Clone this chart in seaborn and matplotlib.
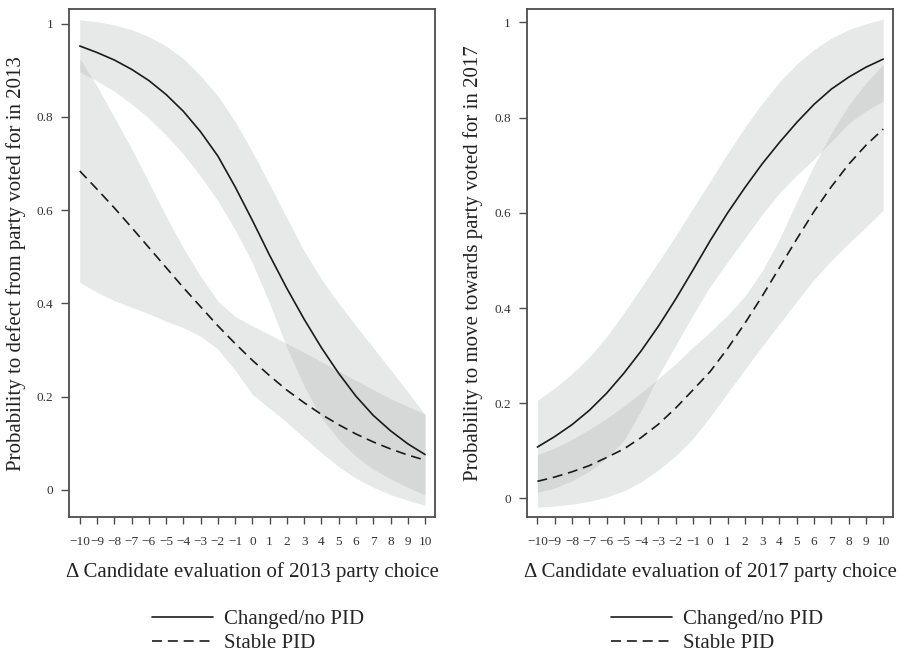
import numpy as np
import pandas as pd
import matplotlib
matplotlib.use('Agg')
import matplotlib.pyplot as plt
import seaborn as sns

# x values: change in candidate evaluation
x_vals = list(range(-10, 11))

# Left panel (2013): probability to defect
defect_changed = [0.952, 0.938, 0.922, 0.902, 0.878, 0.848, 0.812, 0.768, 0.716, 0.650, 0.578,
                  0.503, 0.432, 0.366, 0.305, 0.250, 0.201, 0.160, 0.127, 0.099, 0.076]
defect_changed_lo = [0.896, 0.877, 0.855, 0.828, 0.797, 0.761, 0.720, 0.673, 0.620, 0.558, 0.487,
                     0.400, 0.305, 0.222, 0.155, 0.108, 0.072, 0.045, 0.024, 0.006, -0.011]
defect_changed_hi = [1.008, 1.004, 0.997, 0.987, 0.972, 0.952, 0.925, 0.888, 0.845, 0.790, 0.725,
                     0.655, 0.583, 0.512, 0.452, 0.400, 0.352, 0.305, 0.258, 0.210, 0.162]
defect_stable = [0.684, 0.645, 0.605, 0.563, 0.520, 0.477, 0.434, 0.393, 0.352, 0.314, 0.278,
                 0.245, 0.214, 0.187, 0.162, 0.140, 0.120, 0.103, 0.088, 0.075, 0.064]
defect_stable_lo = [0.445, 0.424, 0.406, 0.392, 0.378, 0.362, 0.348, 0.330, 0.302, 0.257, 0.205,
                    0.175, 0.145, 0.112, 0.080, 0.050, 0.025, 0.006, -0.010, -0.022, -0.033]
defect_stable_hi = [0.925, 0.866, 0.799, 0.732, 0.660, 0.587, 0.519, 0.458, 0.405, 0.372, 0.352,
                    0.333, 0.314, 0.295, 0.275, 0.255, 0.235, 0.215, 0.196, 0.179, 0.163]

# Right panel (2017): probability to move towards party
move_changed = [0.108, 0.130, 0.155, 0.185, 0.221, 0.263, 0.310, 0.362, 0.419, 0.480, 0.542,
                0.600, 0.653, 0.703, 0.748, 0.790, 0.828, 0.860, 0.885, 0.906, 0.923]
move_changed_lo = [0.013, 0.022, 0.037, 0.057, 0.085, 0.122, 0.185, 0.258, 0.322, 0.386, 0.446,
                   0.497, 0.547, 0.597, 0.642, 0.679, 0.713, 0.750, 0.788, 0.814, 0.835]
move_changed_hi = [0.206, 0.232, 0.262, 0.297, 0.340, 0.390, 0.443, 0.497, 0.552, 0.610, 0.667,
                   0.725, 0.780, 0.830, 0.875, 0.913, 0.943, 0.967, 0.985, 0.997, 1.007]
move_stable = [0.036, 0.045, 0.056, 0.069, 0.086, 0.104, 0.128, 0.156, 0.190, 0.228, 0.267,
               0.315, 0.368, 0.425, 0.485, 0.545, 0.603, 0.655, 0.702, 0.742, 0.776]
move_stable_lo = [-0.018, -0.016, -0.012, -0.006, 0.003, 0.016, 0.035, 0.060, 0.090, 0.126, 0.172,
                  0.222, 0.271, 0.320, 0.367, 0.414, 0.460, 0.500, 0.536, 0.570, 0.606]
move_stable_hi = [0.092, 0.106, 0.124, 0.145, 0.168, 0.194, 0.222, 0.252, 0.283, 0.318, 0.350,
                  0.385, 0.425, 0.478, 0.545, 0.624, 0.700, 0.768, 0.826, 0.873, 0.912]

y_ticks = [0, 0.2, 0.4, 0.6, 0.8, 1]
y_ticklabels = ['0', '0.2', '0.4', '0.6', '0.8', '1']
x_ticklabels = [str(v).replace('-', '\u2212') for v in x_vals]
legend_labels = ['Changed/no PID', 'Stable PID']

sns.set_style('ticks')
plt.rcParams['font.family'] = ['Liberation Serif', 'DejaVu Serif']

band_color = (0.69, 0.70, 0.71)
edge_color = '#4d4d4d'


def draw_panel(ax, line_a, lo_a, hi_a, line_b, lo_b, hi_b, ylim, xlabel, ylabel):
    df = pd.DataFrame({'x': x_vals, 'a': line_a, 'b': line_b})
    # confidence bands, overlapping areas come out darker
    ax.fill_between(x_vals, lo_a, hi_a, color=band_color, alpha=0.3, linewidth=0)
    ax.fill_between(x_vals, lo_b, hi_b, color=band_color, alpha=0.3, linewidth=0)
    sns.lineplot(data=df, x='x', y='a', ax=ax, color='#1a1a1a', linewidth=1.2,
                 label=legend_labels[0])
    sns.lineplot(data=df, x='x', y='b', ax=ax, color='#1a1a1a', linewidth=1.2,
                 linestyle=(0, (6, 3.5)), label=legend_labels[1])
    ax.set_xlim(-10.62, 10.58)
    ax.set_ylim(*ylim)
    ax.set_xticks(x_vals)
    ax.set_xticklabels(x_ticklabels)
    ax.set_yticks(y_ticks)
    ax.set_yticklabels(y_ticklabels)
    ax.tick_params(axis='x', direction='out', length=4.8, width=1.0, pad=8.5,
                   labelsize=9.5, color=edge_color, labelcolor='#333333')
    ax.tick_params(axis='y', direction='out', length=5.8, width=1.0, pad=5.5,
                   labelsize=9.5, color=edge_color, labelcolor='#333333')
    for s in ax.spines.values():
        s.set_visible(True)
        s.set_color(edge_color)
        s.set_linewidth(1.3)
    ax.set_xlabel(xlabel, fontsize=15, color='#222222')
    ax.set_ylabel(ylabel, fontsize=15, color='#222222')
    ax.xaxis.set_label_coords(0.5, -0.088)
    ax.yaxis.set_label_coords(-0.118, 0.5)
    ax.grid(False)


fig = plt.figure(figsize=(9, 6.52), dpi=100)
ax1 = fig.add_axes([0.0767, 0.207, 0.4067, 0.779])
ax2 = fig.add_axes([0.5852, 0.207, 0.4073, 0.779])

draw_panel(ax1, defect_changed, defect_changed_lo, defect_changed_hi,
           defect_stable, defect_stable_lo, defect_stable_hi, (-0.058, 1.031),
           '\u0394 Candidate evaluation of 2013 party choice',
           'Probability to defect from party voted for in 2013')
draw_panel(ax2, move_changed, move_changed_lo, move_changed_hi,
           move_stable, move_stable_lo, move_stable_hi, (-0.039, 1.028),
           '\u0394 Candidate evaluation of 2017 party choice',
           'Probability to move towards party voted for in 2017')

for ax, lx in [(ax1, 152), (ax2, 611)]:
    ax.legend(loc='center left', bbox_to_anchor=(lx / 900, 1 - 631.5 / 652),
              bbox_transform=fig.transFigure, frameon=False, fontsize=15,
              handlelength=2.95, handletextpad=0.5, labelspacing=0.2,
              borderpad=0, borderaxespad=0)

fig.savefig('out.png', dpi=100)
